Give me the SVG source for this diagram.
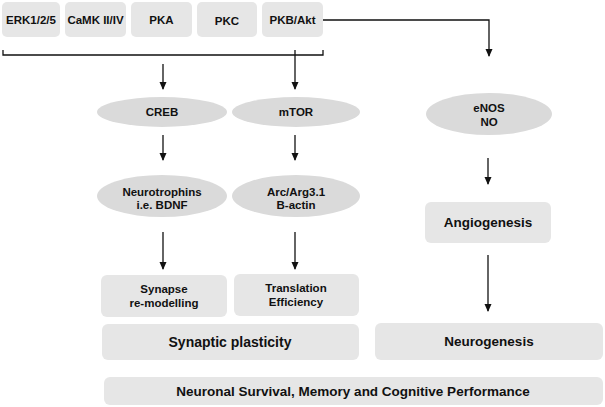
<svg xmlns="http://www.w3.org/2000/svg" width="605" height="407" viewBox="0 0 605 407">
<style>
.box{fill:#e6e6e6}
.ell{fill:#dadada}
text{font-family:"Liberation Sans",Arial,sans-serif;font-weight:bold;fill:#111;text-anchor:middle}
.s{font-size:11.5px}
.m{font-size:13.5px}
.l{font-size:14px}
.c{stroke:#111;stroke-width:1.3;fill:none}
</style>
<defs>
<marker id="ah" markerWidth="8" markerHeight="8" refX="7" refY="4" orient="auto" markerUnits="userSpaceOnUse">
<path d="M0,0.5 L8,4 L0,7.5 Z" fill="#111"/>
</marker>
</defs>
<rect width="605" height="407" fill="#fff"/>
<g id="erk"><rect class="box" x="2" y="2" width="58" height="35" rx="5"/><text class="s" x="31" y="24">ERK1/2/5</text></g>
<g id="camk"><rect class="box" x="65" y="2" width="61" height="35" rx="5"/><text class="s" x="95.5" y="24">CaMK II/IV</text></g>
<g id="pka"><rect class="box" x="131" y="2" width="61" height="35" rx="5"/><text class="s" x="161.5" y="24">PKA</text></g>
<g id="pkc"><rect class="box" x="197" y="2" width="60" height="35" rx="5"/><text class="s" x="227" y="25">PKC</text></g>
<g id="pkb"><rect class="box" x="262" y="2" width="61" height="35" rx="5"/><text class="s" x="292.5" y="24">PKB/Akt</text></g>
<g id="creb"><ellipse class="ell" cx="162" cy="112" rx="65" ry="15"/><text class="s" x="162" y="116">CREB</text></g>
<g id="mtor"><ellipse class="ell" cx="296" cy="112" rx="64" ry="15"/><text class="s" x="296" y="116">mTOR</text></g>
<g id="enos"><ellipse class="ell" cx="489" cy="114" rx="63" ry="21"/><text class="s" x="489" y="112">eNOS</text><text class="s" x="489" y="126">NO</text></g>
<g id="neurotrophins"><ellipse class="ell" cx="162" cy="196" rx="65" ry="21"/><text class="s" x="162" y="196">Neurotrophins</text><text class="s" x="162" y="209">i.e. BDNF</text></g>
<g id="arc"><ellipse class="ell" cx="296" cy="196" rx="64" ry="21"/><text class="s" x="296" y="196">Arc/Arg3.1</text><text class="s" x="296" y="209">B-actin</text></g>
<g id="angiogenesis"><rect class="box" x="425" y="202" width="126" height="41" rx="6"/><text class="m" x="488" y="227">Angiogenesis</text></g>
<g id="synapse"><rect class="box" x="101" y="275" width="126" height="42" rx="6"/><text class="s" x="164" y="293">Synapse</text><text class="s" x="164" y="307">re-modelling</text></g>
<g id="translation"><rect class="box" x="234" y="274" width="125" height="42" rx="6"/><text class="s" x="296" y="292">Translation</text><text class="s" x="296" y="306">Efficiency</text></g>
<g id="synaptic"><rect class="box" x="102" y="324" width="257" height="36" rx="6"/><text class="l" x="230" y="347">Synaptic plasticity</text></g>
<g id="neurogenesis"><rect class="box" x="375" y="323" width="228" height="37" rx="6"/><text class="m" x="489" y="346">Neurogenesis</text></g>
<g id="survival"><rect class="box" x="104" y="377" width="499" height="28" rx="6"/><text class="m" x="353" y="396">Neuronal Survival, Memory and Cognitive Performance</text></g>
<g id="connectors">
<path class="c" d="M3,50 V55 H323 V50"/>
<path class="c" d="M163,64 V89" marker-end="url(#ah)"/>
<path class="c" d="M295,50 V89" marker-end="url(#ah)"/>
<path class="c" d="M323,20 H489 V56" marker-end="url(#ah)"/>
<path class="c" d="M163,135 V160" marker-end="url(#ah)"/>
<path class="c" d="M295,135 V160" marker-end="url(#ah)"/>
<path class="c" d="M163,232 V269" marker-end="url(#ah)"/>
<path class="c" d="M295,232 V269" marker-end="url(#ah)"/>
<path class="c" d="M488,158 V184" marker-end="url(#ah)"/>
<path class="c" d="M488,255 V311" marker-end="url(#ah)"/>
</g>
</svg>
